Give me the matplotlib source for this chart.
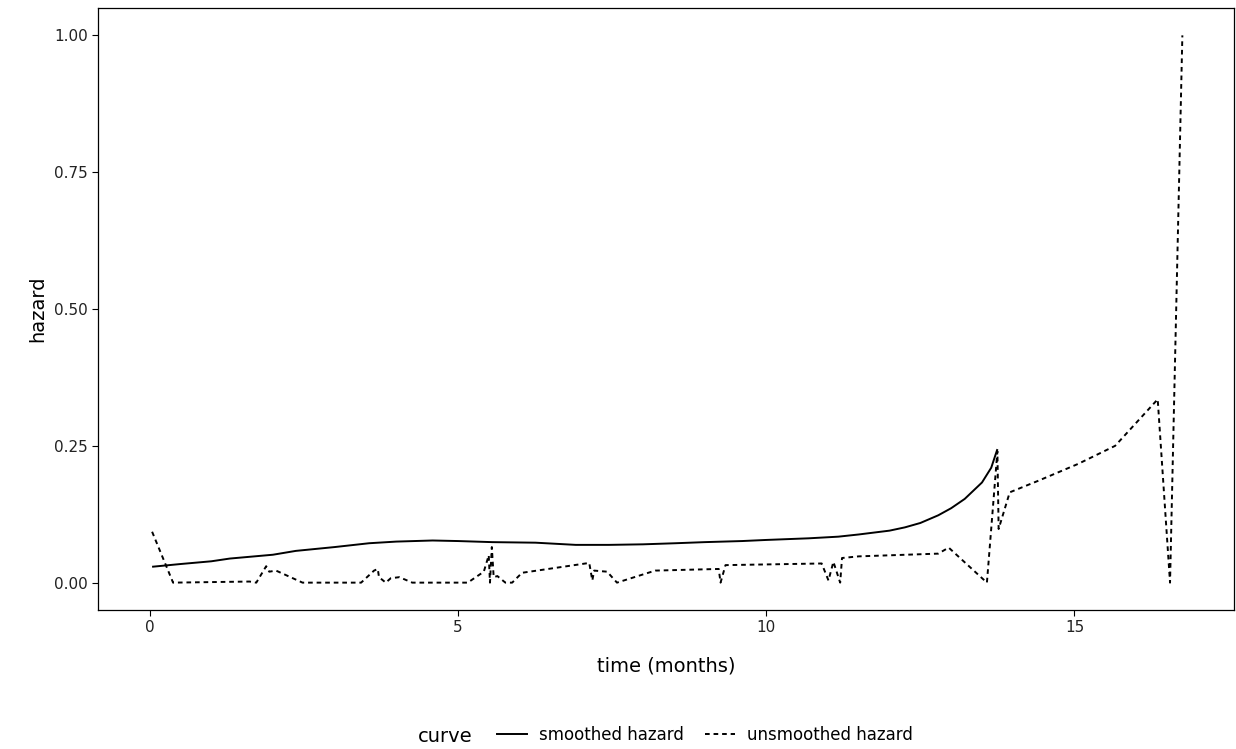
import numpy as np
import matplotlib
matplotlib.use("Agg")
import matplotlib.pyplot as plt
from matplotlib.lines import Line2D

# smoothed hazard curve (time in months, hazard)
smooth_t = [0.04, 0.5, 1.0, 1.3, 2.0, 2.37, 3.0, 3.56, 4.0, 4.59, 5.0, 5.56, 6.26, 6.91,
            7.45, 8.0, 8.53, 9.0, 9.61, 10.0, 10.69, 11.17, 11.5, 12.0, 12.25, 12.5,
            12.79, 13.0, 13.22, 13.5, 13.65, 13.75]
smooth_h = [0.029, 0.034, 0.039, 0.044, 0.051, 0.058, 0.065, 0.072, 0.075, 0.077, 0.076,
            0.074, 0.073, 0.069, 0.069, 0.070, 0.072, 0.074, 0.076, 0.078, 0.081, 0.084,
            0.088, 0.095, 0.101, 0.109, 0.123, 0.136, 0.153, 0.183, 0.210, 0.244]

# unsmoothed hazard (step estimates joined by lines)
raw_t = [0.04, 0.38, 1.62, 1.73, 1.89, 1.94, 2.05, 2.48, 3.43, 3.64, 3.70, 3.72, 3.83,
         3.91, 4.05, 4.26, 5.16, 5.42, 5.50, 5.52, 5.55, 5.58, 5.64, 5.77, 5.88, 6.04,
         7.13, 7.18, 7.21, 7.42, 7.58, 8.20, 9.23, 9.26, 9.34, 10.90, 11.01, 11.09, 11.20,
         11.23, 11.50, 12.79, 12.96, 13.58, 13.75, 13.77, 13.95, 14.41, 15.06, 15.66,
         16.35, 16.55, 16.75]
raw_h = [0.093, 0.0, 0.002, 0.0, 0.030, 0.020, 0.022, 0.0, 0.0, 0.022, 0.025, 0.010, 0.0,
         0.008, 0.010, 0.0, 0.0, 0.020, 0.050, 0.0, 0.065, 0.010, 0.012, 0.0, 0.0, 0.018,
         0.036, 0.004, 0.022, 0.020, 0.0, 0.022, 0.025, 0.0, 0.032, 0.035, 0.004, 0.038,
         0.0, 0.045, 0.048, 0.053, 0.064, 0.0, 0.240, 0.098, 0.165, 0.186, 0.217, 0.250,
         0.335, 0.0, 1.0]

legend_labels = ["smoothed hazard", "unsmoothed hazard"]
x_ticks = [0, 5, 10, 15]
y_ticks = [0.0, 0.25, 0.5, 0.75, 1.0]

plt.rcParams['font.family'] = ['DejaVu Sans']

fig = plt.figure(figsize=(12.36, 7.49), dpi=100)
ax = fig.add_axes([98 / 1236, 1 - 610 / 749, 1136 / 1236, 602 / 749])

ax.plot(smooth_t, smooth_h, color="black", lw=1.4, solid_capstyle="butt")
ax.plot(raw_t, raw_h, color="black", lw=1.4, dashes=(2.4, 2.0))

xmin, xmax = 0.0, 16.75
pad = (xmax - xmin) * 0.05
ax.set_xlim(xmin - pad, xmax + pad)
ax.set_ylim(-0.05, 1.05)
ax.set_xticks(x_ticks)
ax.set_yticks(y_ticks)
ax.set_xticklabels([str(v) for v in x_ticks])
ax.set_yticklabels(["%.2f" % v for v in y_ticks])
ax.tick_params(labelsize=11, length=4, width=0.8, colors="black", labelcolor="#222222")
for s in ax.spines.values():
    s.set_linewidth(0.9)

ax.set_xlabel("time (months)", fontsize=14, labelpad=15)
ax.set_ylabel("hazard", fontsize=14, labelpad=5)

# legend at the bottom, title on the left like ggplot
fig.text(418 / 1236, 1 - 736 / 749, "curve", fontsize=14, va="center", ha="left")
handles = [Line2D([], [], color="black", lw=1.4),
           Line2D([], [], color="black", lw=1.4, dashes=(2.4, 2.0))]
fig.legend(handles, legend_labels, loc="center left",
           bbox_to_anchor=(497 / 1236, 1 - 735 / 749), ncol=2, frameon=False,
           fontsize=12, handlelength=1.8, handletextpad=0.7, columnspacing=1.3,
           borderaxespad=0, borderpad=0)

fig.savefig("out.png", dpi=100)
